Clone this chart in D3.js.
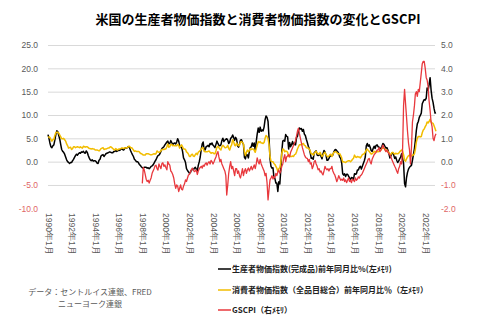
<!DOCTYPE html>
<html><head><meta charset="utf-8">
<script src="https://cdn.jsdelivr.net/npm/d3@7"></script>
<style>
body{margin:0;background:#fff;}
svg{display:block;font-family:"Noto Sans CJK JP","Noto Sans",sans-serif;}
</style></head>
<body><svg id="c" width="480" height="322"></svg>
<script>
// ---- data (monthly, 1990-01 .. 2022-12) ----
const startYear = 1990;
const ppiFinished = [
 5.8,5.0,4.0,3.2,3.0,3.4,3.6,4.6,5.8,6.6,6.4,5.6,
 4.8,3.6,2.6,2.2,2.0,1.6,1.0,0.4,0.0,-0.2,-0.4,-0.2,
 -0.2,0.2,0.5,0.9,1.3,1.6,1.4,1.7,1.9,1.8,2.1,2.0,
 2.2,1.9,1.8,2.3,2.0,1.3,0.8,0.4,0.2,0.4,0.1,0.2,
 0.2,0.0,-0.3,-0.4,0.3,0.5,1.2,1.4,1.5,1.1,1.4,1.7,
 1.8,1.9,2.0,2.1,2.0,1.9,1.9,2.2,2.2,2.4,2.2,2.3,
 2.5,2.4,2.6,2.8,2.6,2.5,2.8,3.0,2.9,3.1,3.2,3.0,
 2.4,1.9,1.5,1.1,0.5,0.3,0.0,0.0,-0.2,-0.6,-0.8,-1.1,
 -1.3,-1.4,-1.2,-1.2,-1.2,-1.4,-1.3,-1.5,-1.3,-1.0,-0.9,-0.7,
 -0.3,0.1,0.4,0.9,1.3,1.4,1.7,2.2,2.8,3.0,3.2,3.6,
 3.9,4.2,4.4,3.8,3.9,4.5,4.1,3.6,3.9,4.0,3.8,4.2,
 4.9,4.4,3.5,3.1,3.1,2.2,0.8,0.4,-0.2,-1.5,-1.9,-2.2,
 -2.5,-2.3,-1.8,-1.6,-1.8,-1.4,-1.2,-1.6,-2.0,-0.8,0.0,1.0,
 2.6,3.8,4.2,2.6,2.5,3.2,3.3,3.5,3.2,3.9,3.7,4.0,
 3.5,3.3,3.0,3.7,4.4,3.9,3.5,3.4,3.6,4.5,5.0,4.3,
 4.6,4.8,4.9,4.6,3.9,4.2,5.0,5.2,5.7,5.2,4.6,5.2,
 4.8,3.4,3.1,3.8,4.6,4.7,4.1,3.7,0.9,0.6,1.6,1.4,
 0.8,2.3,3.0,3.2,4.0,3.3,4.0,2.4,4.3,5.9,7.2,6.3,
 7.4,6.5,6.8,6.6,7.4,9.0,9.8,9.5,8.6,5.2,0.6,-1.0,
 -1.4,-1.3,-3.3,-3.6,-4.6,-4.6,-6.4,-4.3,-4.8,-1.7,2.2,4.4,
 4.6,4.4,5.8,5.4,5.3,2.7,4.1,3.2,3.7,4.3,3.5,4.0,
 3.6,5.2,5.4,6.6,7.2,7.0,7.1,6.5,6.9,5.9,5.6,4.8,
 4.1,3.3,2.8,1.9,0.7,0.8,0.5,1.9,2.1,2.3,1.4,1.3,
 1.4,1.7,1.1,0.6,1.7,2.4,2.1,1.4,0.3,0.3,0.7,1.2,
 1.2,1.3,1.4,2.1,2.5,2.6,2.3,2.1,1.7,1.0,0.7,-0.3,
 -2.6,-2.9,-2.6,-3.2,-2.7,-2.7,-3.1,-3.5,-3.8,-3.4,-3.5,-3.8,
 -2.6,-2.7,-2.6,-1.8,-1.8,-1.2,-1.0,-1.6,-1.0,-0.4,0.2,1.0,
 3.4,3.9,3.3,3.6,3.1,2.4,2.2,2.8,3.3,2.8,3.5,3.6,
 3.2,3.1,2.8,2.9,3.3,3.9,3.7,3.3,2.9,3.0,2.5,1.8,
 0.8,1.2,1.8,1.9,1.4,0.7,1.0,0.3,-0.2,0.1,0.6,1.0,
 1.7,0.7,-0.4,-4.7,-5.4,-3.4,-2.3,-1.6,-1.2,-1.0,-0.8,0.3,
 1.5,2.8,4.5,6.7,8.1,8.6,9.5,9.9,10.4,12.4,12.9,13.3,
 13.2,13.6,15.8,15.3,16.5,18.0,15.4,13.6,12.7,11.4,10.4,10.5
];
const cpiAll = [
 5.2,5.3,5.2,4.7,4.4,4.7,4.8,5.6,6.2,6.3,6.3,6.1,
 5.7,5.3,4.9,4.9,5.0,4.7,4.4,3.8,3.4,2.9,3.0,3.1,
 2.6,2.8,3.2,3.2,3.0,3.1,3.2,3.1,3.0,3.2,3.0,2.9,
 3.3,3.2,3.1,3.2,3.2,3.0,2.8,2.8,2.7,2.8,2.7,2.7,
 2.5,2.5,2.5,2.4,2.3,2.5,2.8,2.9,3.0,2.6,2.7,2.7,
 2.8,2.9,2.9,3.1,3.2,3.0,2.8,2.6,2.5,2.8,2.6,2.5,
 2.7,2.7,2.8,2.9,2.9,2.8,3.0,2.9,3.0,3.0,3.3,3.3,
 3.0,3.0,2.8,2.5,2.2,2.3,2.2,2.2,2.2,2.1,1.8,1.7,
 1.6,1.4,1.4,1.4,1.7,1.7,1.7,1.6,1.5,1.5,1.5,1.6,
 1.7,1.6,1.7,2.3,2.1,2.0,2.1,2.3,2.6,2.6,2.6,2.7,
 2.7,3.2,3.8,3.1,3.2,3.7,3.7,3.4,3.5,3.4,3.4,3.4,
 3.7,3.5,2.9,3.3,3.6,3.2,2.7,2.7,2.6,2.1,1.9,1.6,
 1.1,1.1,1.5,1.6,1.2,1.1,1.5,1.8,1.5,2.0,2.2,2.4,
 2.6,3.0,3.0,2.2,2.1,2.1,2.1,2.2,2.3,2.0,1.8,1.9,
 1.9,1.7,1.7,2.3,3.1,3.3,3.0,2.7,2.5,3.2,3.5,3.3,
 3.0,3.0,3.1,3.5,2.8,2.5,3.2,3.6,4.7,4.3,3.5,3.4,
 4.0,3.6,3.4,3.5,4.2,4.3,4.1,3.8,2.1,1.3,2.0,2.5,
 2.1,2.4,2.8,2.6,2.7,2.7,2.4,2.0,2.8,3.5,4.3,4.1,
 4.3,4.0,4.0,3.9,4.1,5.0,5.6,5.4,4.9,3.7,1.1,0.1,
 0.0,0.0,-0.4,-0.6,-1.0,-1.4,-2.1,-1.5,-1.3,-0.2,1.8,2.7,
 2.6,2.1,2.3,2.2,2.0,1.1,1.2,1.1,1.1,1.2,1.1,1.5,
 1.6,2.1,2.7,3.2,3.6,3.6,3.6,3.8,3.9,3.5,3.4,3.0,
 2.9,2.9,2.7,2.3,1.7,1.7,1.4,1.7,2.0,2.2,1.8,1.7,
 1.6,2.0,1.5,1.1,1.4,1.8,2.0,1.5,1.2,1.0,1.2,1.5,
 1.6,1.1,1.5,2.0,2.1,2.1,2.0,1.7,1.7,1.7,1.3,0.8,
 -0.1,0.0,-0.1,-0.2,0.0,0.1,0.2,0.2,0.0,0.2,0.5,0.7,
 1.4,1.0,0.9,1.1,1.0,1.0,0.8,1.1,1.5,1.6,1.7,2.1,
 2.5,2.7,2.4,2.2,1.9,1.6,1.7,1.9,2.2,2.0,2.2,2.1,
 2.1,2.2,2.4,2.5,2.8,2.9,2.9,2.7,2.3,2.5,2.2,1.9,
 1.6,1.5,1.9,2.0,1.8,1.6,1.8,1.7,1.7,1.8,2.1,2.3,
 2.5,2.3,1.5,0.3,0.1,0.6,1.0,1.3,1.4,1.2,1.2,1.4,
 1.4,1.7,2.6,4.2,5.0,5.4,5.4,5.3,5.4,6.2,6.8,7.0,
 7.5,7.9,8.5,8.3,8.6,9.1,8.5,8.3,8.2,7.7,7.1,6.5
];
// GSCPI starts 1998-01
const gscpiStartYear = 1998;
const gscpi = [
 -0.93,-0.25,-0.35,-0.55,-0.75,-0.85,-0.80,-0.92,-0.80,-0.70,-0.50,-0.40,
 -0.30,-0.18,-0.15,-0.30,-0.36,-0.10,-0.20,-0.30,-0.08,-0.05,-0.20,-0.14,
 -0.25,-0.35,0.00,-0.10,-0.15,-0.40,-0.45,-0.55,-0.70,-0.95,-1.14,-1.00,
 -1.05,-1.28,-1.15,-1.00,-1.18,-1.21,-1.05,-0.95,-0.78,-0.85,-0.70,-0.57,
 -0.55,-0.43,-0.36,-0.28,-0.35,-0.43,-0.40,-0.36,-0.55,-0.40,-0.30,-0.25,
 -0.20,-0.28,-0.15,-0.20,-0.10,-0.05,-0.15,-0.05,0.00,-0.10,0.05,0.00,
 -0.10,0.00,0.10,0.20,0.35,0.43,0.20,0.00,0.10,-0.10,-0.20,-0.30,
 -0.40,-0.60,-1.43,-1.00,-0.50,-0.20,0.00,-0.30,-0.20,-0.40,-0.60,-0.30,
 -0.30,-0.50,-0.40,-0.60,-0.70,-0.50,-0.30,-0.60,-0.40,-0.30,-0.50,-0.35,
 -0.27,-0.40,-0.30,-0.20,-0.35,-0.25,-0.14,-0.30,-0.10,0.16,0.00,-0.10,
 0.10,-0.10,-0.20,-0.30,-0.40,-0.60,-0.50,-0.90,-1.64,-1.20,-0.78,-0.70,
 -0.60,-0.75,-0.64,-0.70,-0.50,-0.60,-0.45,-0.36,-0.50,-0.40,-0.20,-0.10,
 0.15,0.30,0.00,0.20,0.25,0.30,0.20,0.40,0.50,0.60,0.70,0.80,
 0.90,1.10,1.30,1.43,1.20,1.00,0.80,0.60,0.45,0.30,0.20,0.15,
 0.14,0.00,0.10,-0.10,-0.05,-0.30,-0.20,0.00,0.05,-0.10,-0.20,-0.35,
 -0.30,-0.45,-0.40,-0.50,-0.57,-0.40,-0.20,-0.30,-0.35,-0.30,-0.40,-0.30,
 -0.30,-0.20,-0.40,-0.50,-0.57,-0.70,-0.86,-0.75,-0.60,-0.70,-0.80,-0.75,
 -0.80,-0.70,-0.85,-0.78,-0.90,-0.80,-0.70,-0.85,-0.80,-0.90,-0.75,-0.80,
 -0.85,-0.70,-0.80,-0.75,-0.65,-0.70,-0.60,-0.57,-0.50,-0.40,-0.30,-0.20,
 -0.10,0.00,0.10,0.14,0.00,-0.10,0.10,0.20,0.30,0.35,0.40,0.50,
 0.50,0.60,0.43,0.50,0.60,0.71,0.60,0.50,0.43,0.50,0.40,0.35,
 0.30,0.20,0.10,0.00,-0.10,-0.20,-0.28,-0.40,-0.50,-0.30,-0.20,0.00,
 -0.10,0.60,2.40,3.10,2.50,1.90,1.30,0.80,0.50,-0.10,0.60,1.70,
 2.00,2.40,2.90,3.00,2.80,3.10,3.00,3.40,3.80,4.20,4.30,4.30,
 4.00,3.60,3.50,3.20,2.60,2.20,1.70,1.50,1.00,0.90,1.10,1.20
];
const leftTicks = [-10, -5, 0, 5, 10, 15, 20, 25];
const rightTicks = [-2, -1, 0, 1, 2, 3, 4, 5];
const xTickYears = d3.range(1990, 2023, 2);
const titleText = "米国の生産者物価指数と消費者物価指数の変化とGSCPI";
const legendLabels = [
 "生産者物価指数(完成品)前年同月比%(左ﾒﾓﾘ)",
 "消費者物価指数（全品目総合）前年同月比％（左ﾒﾓﾘ）",
 "GSCPI（右ﾒﾓﾘ）"
];
const sourceLines = ["データ：セントルイス連銀、FRED", "ニューヨーク連銀"];

// ---- chart ----
const colors = {ppi:"#000000", cpi:"#f2bd00", gscpi:"#e8383d"};
const svg = d3.select("#c");
svg.append("rect").attr("width",480).attr("height",322).attr("fill","#fff");

const monthDate = (y0, i) => new Date(y0 + Math.floor(i/12), i%12, 1);
const ppiData = ppiFinished.map((v,i)=>({d:monthDate(startYear,i), v}));
const cpiData = cpiAll.map((v,i)=>({d:monthDate(startYear,i), v}));
const gsData = gscpi.map((v,i)=>({d:monthDate(gscpiStartYear,i), v}));

const x = d3.scaleTime().domain([new Date(1990,0,1), new Date(2022,11,1)]).range([48, 436]);
const yL = d3.scaleLinear().domain([-10, 25]).range([208.3, 45]);
const yR = d3.scaleLinear().domain([-2, 5]).range([208.3, 45]);

// grid
svg.append("g").selectAll("line").data(leftTicks.filter(t=>t>-10)).join("line")
  .attr("x1",48).attr("x2",435).attr("y1",d=>yL(d)+0.5).attr("y2",d=>yL(d)+0.5)
  .attr("stroke","#d9d9d9").attr("stroke-width",1);

const gray = "#595959", neg = "#e06666";
// left axis labels
const axL = d3.axisLeft(yL).tickValues(leftTicks).tickFormat(d3.format(".1f")).tickSize(0).tickPadding(0);
const gL = svg.append("g").attr("transform","translate(38,0)").call(axL);
gL.select(".domain").remove();
gL.selectAll("text").attr("font-size",8.5).attr("font-family",null)
  .attr("fill",d=>d<0?neg:gray).text(d=>d3.format(".1f")(d).replace("−","-"));

const axR = d3.axisRight(yR).tickValues(rightTicks).tickFormat(d3.format(".1f")).tickSize(0).tickPadding(0);
const gR = svg.append("g").attr("transform","translate(441,0)").call(axR);
gR.select(".domain").remove();
gR.selectAll("text").attr("font-size",8.5).attr("font-family",null)
  .attr("fill",d=>d<0?neg:gray).text(d=>d3.format(".1f")(d).replace("−","-"));

// x axis labels rotated
const axX = d3.axisBottom(x).tickValues(xTickYears.map(y=>new Date(y,0,1)))
  .tickFormat(d=>d.getFullYear()+"年1月").tickSize(0).tickPadding(0);
const gX = svg.append("g").attr("transform","translate(0,213)").call(axX);
gX.select(".domain").remove();
gX.selectAll("text").attr("font-size",8.5).attr("font-family",null).attr("fill",gray)
  .attr("transform","rotate(90)").attr("text-anchor","start").attr("dy","0.35em").attr("x",0).attr("y",0);

// lines
const lineL = d3.line().x(d=>x(d.d)).y(d=>yL(d.v));
const lineR = d3.line().x(d=>x(d.d)).y(d=>yR(d.v));
svg.append("path").datum(ppiData).attr("d",lineL).attr("fill","none")
  .attr("stroke",colors.ppi).attr("stroke-width",1.5).attr("stroke-linejoin","round");
svg.append("path").datum(cpiData).attr("d",lineL).attr("fill","none")
  .attr("stroke",colors.cpi).attr("stroke-width",1.5).attr("stroke-linejoin","round");
svg.append("path").datum(gsData).attr("d",lineR).attr("fill","none")
  .attr("stroke",colors.gscpi).attr("stroke-width",1.3).attr("stroke-linejoin","round");

// title
svg.append("text").attr("x",258).attr("y",24).attr("text-anchor","middle")
  .attr("font-size",13).attr("font-weight","bold").attr("fill","#000").text(titleText);

// legend
const legCols = [colors.ppi, colors.cpi, colors.gscpi];
const legY = [269, 290, 310];
legendLabels.forEach((t,i)=>{
  svg.append("line").attr("x1",218).attr("x2",231).attr("y1",legY[i]).attr("y2",legY[i])
    .attr("stroke",legCols[i]).attr("stroke-width",1.5);
  svg.append("text").attr("x",232).attr("y",legY[i]).attr("dy","0.35em")
    .attr("font-size",8).attr("font-weight","bold").attr("fill","#222").text(t);
});

// source
sourceLines.forEach((t,i)=>{
  svg.append("text").attr("x",90).attr("y",292+i*12).attr("dy","0.35em").attr("text-anchor","middle")
    .attr("font-size",8).attr("fill",gray).text(t);
});
</script></body></html>
